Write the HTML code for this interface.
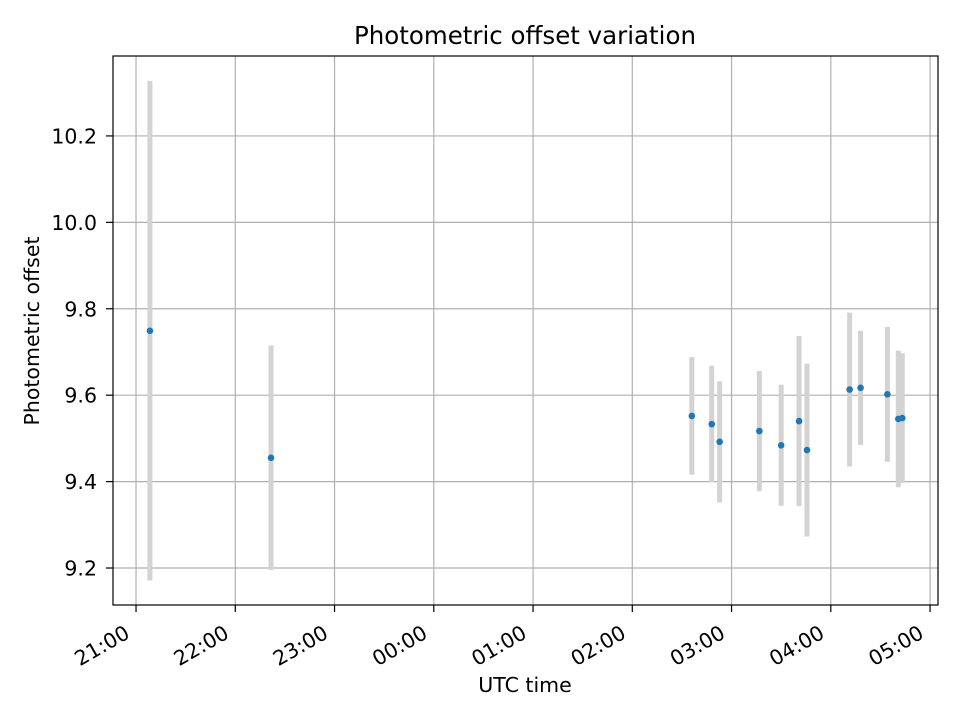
<!DOCTYPE html>
<html><head><meta charset="utf-8"><style>
html,body{margin:0;padding:0;background:#fff;}
svg{display:block;font-family:"DejaVu Sans","Liberation Sans",sans-serif;}
</style></head><body>
<svg id="chart" width="960" height="720" viewBox="0 0 960 720">
<rect width="960" height="720" fill="#fff"/>
<g id="grid"></g>
<g id="bars"></g>
<g id="pts"></g>
<rect x="113" y="56" width="825" height="549" fill="none" stroke="#000" stroke-width="1.2"/>
<g id="axes"></g>
<text x="525" y="44" text-anchor="middle" font-size="24.5">Photometric offset variation</text>
<text x="525" y="692" text-anchor="middle" font-size="20.5">UTC time</text>
<text transform="translate(39,331) rotate(-90)" text-anchor="middle" font-size="20.5">Photometric offset</text>
</svg>
<script>
// hours after 21:00 UTC
const times = [0.14,1.36,5.60,5.80,5.88,6.28,6.50,6.68,6.76,7.19,7.30,7.57,7.68,7.72];
const offsets = [9.749,9.455,9.552,9.533,9.492,9.517,9.484,9.540,9.473,9.613,9.617,9.602,9.545,9.547];
const errors = [0.578,0.26,0.136,0.135,0.14,0.139,0.14,0.197,0.2,0.178,0.132,0.156,0.158,0.15];
const xTickLabels = ["21:00","22:00","23:00","00:00","01:00","02:00","03:00","04:00","05:00"];
const yTicks = [9.2,9.4,9.6,9.8,10.0,10.2];
const yTickLabels = ["9.2","9.4","9.6","9.8","10.0","10.2"];

const NS="http://www.w3.org/2000/svg";
const X0=113,X1=938,Y0=56,Y1=605;
const xMin=-0.232,xMax=8.08,yMin=9.1144,yMax=10.385;
const xs=v=>X0+(v-xMin)/(xMax-xMin)*(X1-X0);
const ys=v=>Y1-(v-yMin)/(yMax-yMin)*(Y1-Y0);
function mk(tag,attrs,parent){const e=document.createElementNS(NS,tag);for(const k in attrs)e.setAttribute(k,attrs[k]);parent.appendChild(e);return e;}
const grid=document.getElementById('grid'),axes=document.getElementById('axes'),bars=document.getElementById('bars'),pts=document.getElementById('pts');
xTickLabels.forEach((lab,i)=>{
  const x=xs(i);
  let g=mk('line',{x1:x,x2:x,y1:Y0,y2:Y1,stroke:'#b0b0b0','stroke-width':1.2},grid);
  
  
  let t=mk('line',{x1:x,x2:x,y1:Y1,y2:Y1+7,stroke:'#000','stroke-width':1.2},axes);
  
  
  let tx=mk('text',{transform:`translate(${x-5},${Y1+32}) rotate(-30)`,'text-anchor':'end','font-size':20.5},axes);
  tx.textContent=lab;
  
  
});
yTicks.forEach((v,i)=>{
  const y=ys(v);
  let g=mk('line',{x1:X0,x2:X1,y1:y,y2:y,stroke:'#b0b0b0','stroke-width':1.2},grid);
  
  
  let t=mk('line',{x1:X0-7,x2:X0,y1:y,y2:y,stroke:'#000','stroke-width':1.2},axes);
  
  
  let tx=mk('text',{x:X0-16,y:y+7.5,'text-anchor':'end','font-size':20.5},axes);
  tx.textContent=yTickLabels[i];
  
  
});
times.forEach((t,i)=>{
  const x=xs(t);
  let b=mk('line',{x1:x,x2:x,y1:ys(offsets[i]+errors[i]),y2:ys(offsets[i]-errors[i]),stroke:'#d3d3d3','stroke-width':5},bars);
  
  
  let c=mk('circle',{cx:x,cy:ys(offsets[i]),r:3.3,fill:'#1f77b4'},pts);
  
  
});
</script>
</body></html>
